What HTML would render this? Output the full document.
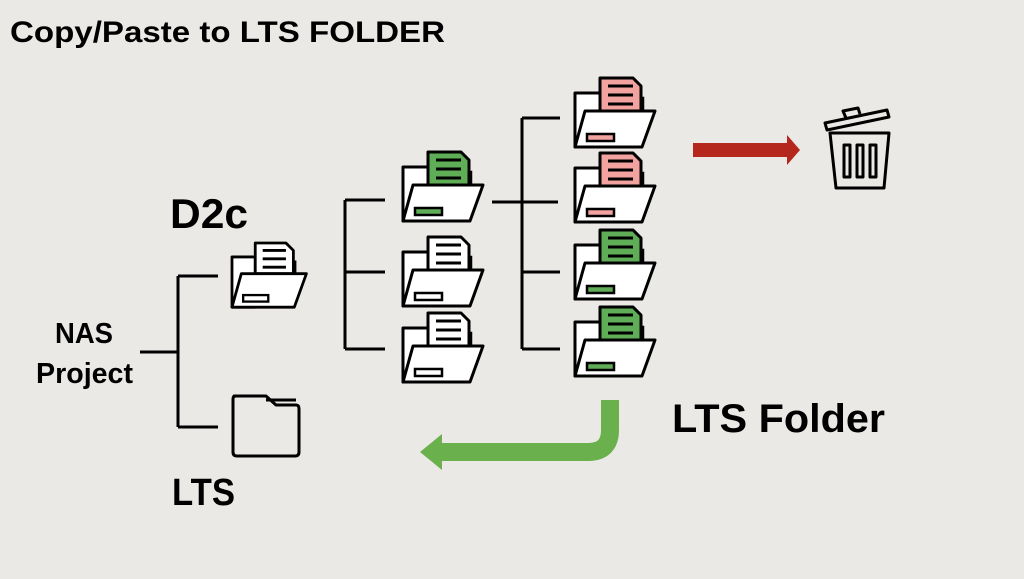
<!DOCTYPE html>
<html><head><style>
html,body{margin:0;padding:0;background:#ebe9e5;}
svg{display:block;font-family:"Liberation Sans",sans-serif;font-weight:bold;}
</style></head><body>
<svg width="1024" height="579" viewBox="0 0 1024 579" xmlns="http://www.w3.org/2000/svg">
<rect width="1024" height="579" fill="#ebe9e5"/>
<defs>
<g id="fw">
<path d="M0 15 H25 V69 H0 Z" fill="#fff" stroke="#000" stroke-width="3" stroke-linejoin="round"/>
<path d="M64 20 H68 V40 H64 Z" fill="#fff" stroke="#000" stroke-width="2.5"/>
<path d="M25 0 H58 L66 8 V33 H25 Z" fill="#fff" stroke="#000" stroke-width="3" stroke-linejoin="round"/>
<path d="M33 8 H58 M33 17 H58 M33 26 H58" stroke="#000" stroke-width="3"/>
<path d="M10 33 H80 L67 69 H0 Z" fill="#fff" stroke="#000" stroke-width="3" stroke-linejoin="round"/>
<rect x="12" y="56" width="27" height="7" fill="#fff" stroke="#000" stroke-width="2.5"/>
</g>
<g id="fg">
<path d="M0 15 H25 V69 H0 Z" fill="#fff" stroke="#000" stroke-width="3" stroke-linejoin="round"/>
<path d="M64 20 H68 V40 H64 Z" fill="#fff" stroke="#000" stroke-width="2.5"/>
<path d="M25 0 H58 L66 8 V33 H25 Z" fill="#5fad56" stroke="#000" stroke-width="3" stroke-linejoin="round"/>
<path d="M33 8 H58 M33 17 H58 M33 26 H58" stroke="#000" stroke-width="3"/>
<path d="M10 33 H80 L67 69 H0 Z" fill="#fff" stroke="#000" stroke-width="3" stroke-linejoin="round"/>
<rect x="12" y="56" width="27" height="7" fill="#5fad56" stroke="#000" stroke-width="2.5"/>
</g>
<g id="fp">
<path d="M0 15 H25 V69 H0 Z" fill="#fff" stroke="#000" stroke-width="3" stroke-linejoin="round"/>
<path d="M64 20 H68 V40 H64 Z" fill="#fff" stroke="#000" stroke-width="2.5"/>
<path d="M25 0 H58 L66 8 V33 H25 Z" fill="#f2a3a0" stroke="#000" stroke-width="3" stroke-linejoin="round"/>
<path d="M33 8 H58 M33 17 H58 M33 26 H58" stroke="#000" stroke-width="3"/>
<path d="M10 33 H80 L67 69 H0 Z" fill="#fff" stroke="#000" stroke-width="3" stroke-linejoin="round"/>
<rect x="12" y="56" width="27" height="7" fill="#f2a3a0" stroke="#000" stroke-width="2.5"/>
</g>
</defs>
<text x="10" y="42" font-size="30" textLength="435" lengthAdjust="spacingAndGlyphs">Copy/Paste to LTS FOLDER</text>
<text x="170" y="228" font-size="42" textLength="78" lengthAdjust="spacingAndGlyphs">D2c</text>
<text x="55" y="343" font-size="29" textLength="58" lengthAdjust="spacingAndGlyphs">NAS</text>
<text x="36" y="383" font-size="29" textLength="97" lengthAdjust="spacingAndGlyphs">Project</text>
<text x="172" y="505" font-size="38" textLength="63" lengthAdjust="spacingAndGlyphs">LTS</text>
<text x="672" y="432" font-size="40" textLength="213" lengthAdjust="spacingAndGlyphs">LTS Folder</text>
<g stroke="#000" stroke-width="3" fill="none">
<path d="M140 352 H178 M178 276 V427 M178 276 H218 M178 427 H218"/>
<path d="M345 200 V349 M345 200 H385 M345 272 H385 M345 349 H385"/>
<path d="M492 202 H558 M522 118 V349 M522 118 H560 M522 272 H560 M522 349 H560"/>
</g>
<use href="#fw" transform="translate(232,243) scale(0.93)"/>
<use href="#fg" x="403" y="152"/>
<use href="#fw" x="403" y="237"/>
<use href="#fw" x="403" y="313"/>
<use href="#fp" x="575" y="78"/>
<use href="#fp" x="575" y="153"/>
<use href="#fg" x="575" y="230"/>
<use href="#fg" x="575" y="307"/>
<path d="M234 396 H266 L276 405 H296 Q299 405 299 409 V452 Q299 456 295 456 H237 Q233 456 233 452 V399 Q233 396 236 396 Z M266 400 H296" fill="none" stroke="#000" stroke-width="3" stroke-linejoin="round"/>
<path d="M693 143 H787 V135 L800 150 L787 165 V157 H693 Z" fill="#b5271c"/>
<g fill="none" stroke="#000" stroke-width="3" stroke-linejoin="round">
<path d="M825 123 L887 110 L889 117 L827 130 Z"/>
<path d="M846 118 L843 111 L858 108 L860 114"/>
<path d="M830 133 H889 L884 188 H836 Z"/>
<path d="M844 145 H850 V177 H844 Z M857 145 H863 V177 H857 Z M870 145 H876 V177 H870 Z"/>
</g>
<path d="M610 400 V430 Q610 452 588 452 H440" fill="none" stroke="#6ab04c" stroke-width="18"/>
<path d="M442 434 L420 452 L442 470 Z" fill="#6ab04c"/>
</svg>
</body></html>
